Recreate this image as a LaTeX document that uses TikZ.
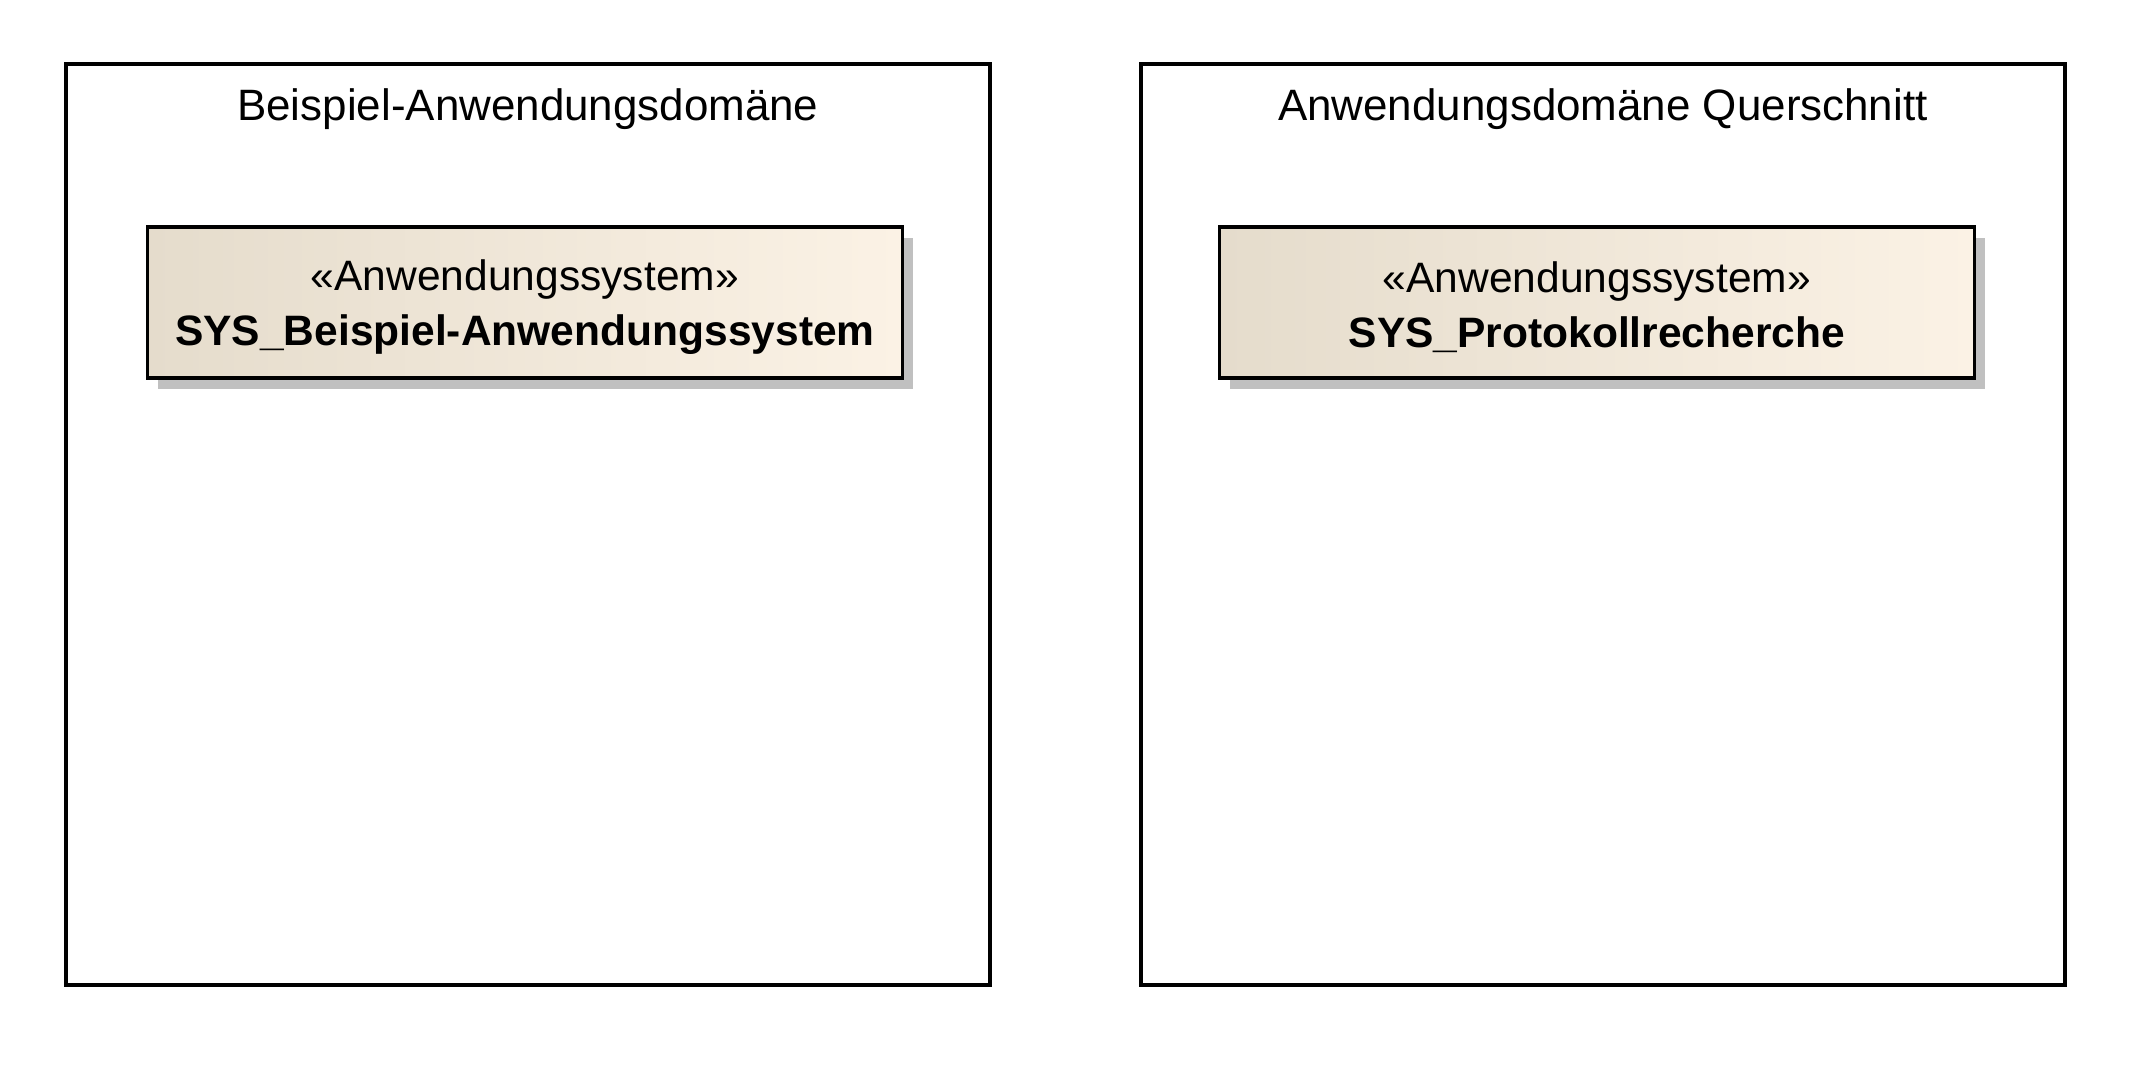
\documentclass[tikz,border=0pt]{standalone}
\usepackage{fontspec}
\setmainfont{Liberation Sans}
\usetikzlibrary{positioning}
\usetikzlibrary{shadows}
\tikzstyle{diagram} = [x = .1mm, y = -.1mm]
\definecolor{boxLeftColor}{RGB}{229,220,204}
\definecolor{boxMiddleColor}{RGB}{247,238,225}
\definecolor{boxRightColor}{RGB}{251,242,229}
\definecolor{shadowColor}{RGB}{192,192,192}
\tikzstyle{domainFrame} = [draw=black, line width=.38mm, minimum width=92.4mm, minimum height=92.1mm, inner sep=0pt, anchor=north west]
\tikzstyle{domainTitle} = [font=\fontsize{12.5}{15}\selectfont, inner sep=0pt]
\tikzstyle{systemBox} = [draw=black, line width=.38mm, minimum width=75.5mm, minimum height=15.1mm, align=center,
  left color=boxLeftColor, middle color=boxMiddleColor, right color=boxRightColor,
  drop shadow={shadow xshift=1.1mm, shadow yshift=-1.1mm, fill=shadowColor, opacity=1},
  font=\fontsize{12.1}{15.5}\selectfont]
\newcommand{\systemText}[1]{\rule{0pt}{11.5pt}«Anwendungssystem»\\\textbf{#1}}

\begin{document}
\begin{tikzpicture}[diagram]
        \useasboundingbox (0,0) rectangle (2129,1089);

        % Domänen
        \node[domainFrame] (leftFrame) at (64,62) {};
        \node[domainFrame] (rightFrame) at (1139,62) {};

        \node[domainTitle, below = 2.6mm of leftFrame.north] (leftTitle) {Beispiel-Anwendungsdomäne};
        \node[domainTitle, below = 2.6mm of rightFrame.north] (rightTitle) {Anwendungsdomäne Querschnitt};

        % Anwendungssysteme
        \node[systemBox, below = 16.3mm of leftFrame.north, xshift=-.3mm] (leftSystem) {\systemText{SYS\_Beispiel-Anwendungssystem}};
        \node[systemBox, below = 16.3mm of rightFrame.north, xshift=-.6mm] (rightSystem) {\systemText{SYS\_Protokollrecherche}};
      \end{tikzpicture}
\end{document}
